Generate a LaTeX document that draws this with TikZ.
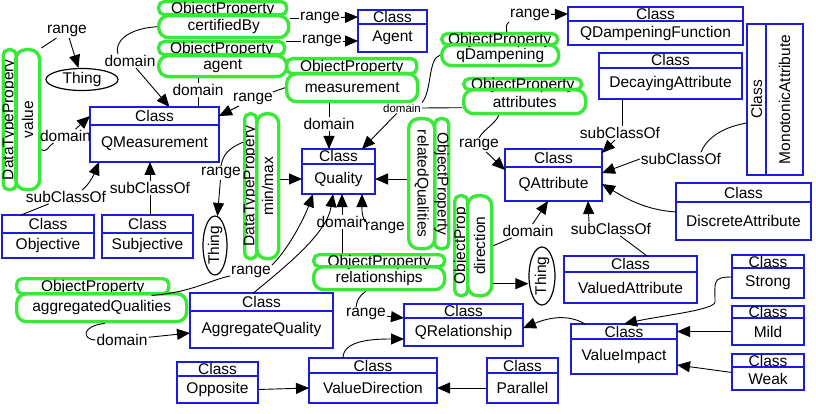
\documentclass[tikz,border=0pt]{standalone}
\usepackage{fontspec}
\setmainfont{Liberation Sans}
\usetikzlibrary{arrows.meta,positioning,shapes.geometric}
\definecolor{clsblue}{HTML}{1C1CDC}
\definecolor{propgreen}{HTML}{3AE83A}

\begin{document}
\begin{tikzpicture}[x=1pt,y=-1pt,
  font=\fontsize{15.5}{17}\selectfont,
  clshead/.style={draw=clsblue,line width=2.8pt,inner sep=0pt,outer sep=0pt,text height=11pt,text depth=0pt},
  clsbody/.style={draw=clsblue,line width=2.8pt,inner sep=1pt,outer sep=0pt},
  prophead/.style={draw=propgreen,line width=3.4pt,rounded corners=5.5pt,inner sep=0pt,text height=11pt,text depth=0pt},
  propbody/.style={draw=propgreen,line width=3.4pt,rounded corners=10pt,inner sep=1pt},
  thing/.style={ellipse,draw,line width=1.2pt,inner sep=0pt},
  lbl/.style={inner sep=1pt},
  link/.style={line width=0.9pt},
  arr/.style={line width=0.9pt,-{Triangle[length=13pt,width=11pt]}}]
  \useasboundingbox (0,0) rectangle (816,414);

  % classes: name/text/centre x/width/top/header/body
  \foreach \nm/\txt/\cx/\w/\y/\hh/\bh in {
      agent/Agent/392.5/69/10/14/28,
      qdf/QDampeningFunction/655.5/175/7/14/24,
      decay/DecayingAttribute/670.5/143/53/15/31,
      qm/QMeasurement/154.5/129/107/18/37,
      qual/Quality/338.5/73/149/15/30,
      qattr/QAttribute/553.5/97/149/18/34,
      obj/Objective/48/92/215/18/25,
      subj/Subjective/147.5/91/215/18/25,
      disc/DiscreteAttribute/743.5/135/183/19/38,
      va/ValuedAttribute/630.5/133/256/16/31,
      strong/Strong/768/72/255/13/30,
      mild/Mild/768/72/306/12/27,
      weak/Weak/768/72/354/13/23,
      vi/ValueImpact/624/106/324/15/35,
      qrel/QRelationship/463.5/119/304/14/28,
      aq/AggregateQuality/261.5/143/293/18/37,
      opp/Opposite/217.5/81/362/14/27,
      vd/ValueDirection/373/128/358/15/30,
      par/Parallel/522.5/71/358/15/30} {
    \node[clshead,minimum width=\w,minimum height=\hh,anchor=north] (\nm-h) at (\cx,\y) {Class};
    \node[clsbody,minimum width=\w,minimum height=\bh,below=0pt of \nm-h] (\nm) {\txt};
  }
  \node[clshead,minimum width=19,minimum height=151,anchor=north west,
        label={[rotate=90]center:Class}] (mono-h) at (747,24) {};
  \node[clsbody,minimum width=37,minimum height=151,right=0pt of mono-h,
        label={[rotate=90]center:MonotonicAttribute}] (mono) {};

  % object properties, lying
  \foreach \nm/\txt/\x/\hw/\hy/\hh/\bw/\by/\bh in {
      cert/certifiedBy/157/128/0/13/130/14/22,
      agt/agent/157/126/40/13/128/54/21,
      meas/measurement/285/130/57/15/131/72/28,
      qdamp/qDampening/440/116/32/11/117/43/21,
      attr/attributes/462/118/77/11/122/88/24,
      rel/relationships/312/131/253/12/131/265/23,
      agg/aggregatedQualities/15/152/277/15/170/292/28} {
    \node[prophead,minimum width=\hw,minimum height=\hh,anchor=north west] (\nm-h) at (\x,\hy) {ObjectProperty};
    \node[propbody,minimum width=\bw,minimum height=\bh,anchor=north west] (\nm) at (\x,\by) {\txt};
  }

  % properties, standing
  \node[prophead,minimum width=13,minimum height=140,anchor=north west,
        label={[rotate=90]center:DataTypePropery}] (value-h) at (1.5,48) {};
  \node[propbody,minimum width=24,minimum height=140,anchor=north west,
        label={[rotate=90]center:value}] (value) at (14,48) {};
  \node[prophead,minimum width=12,minimum height=145,anchor=north west,
        label={[rotate=90]center:DataTypePropery}] (mm-h) at (243,112) {};
  \node[propbody,minimum width=22,minimum height=145,anchor=north west,
        label={[rotate=90]center:min/max}] (mm) at (255,112) {};
  \node[propbody,minimum width=26,minimum height=130,anchor=north west,
        label={[rotate=-90]center:relatedQualities}] (relq) at (407,117) {};
  \node[prophead,minimum width=14,minimum height=130,anchor=north west,
        label={[rotate=-90]center:ObjectProperty}] (relq-h) at (433,117) {};
  \node[prophead,minimum width=13,minimum height=100,anchor=north west,
        label={[rotate=90]center:ObjectProp}] (dir-h) at (453,194) {};
  \node[propbody,minimum width=24,minimum height=100,anchor=north west,
        label={[rotate=90]center:direction}] (dir) at (466,194) {};

  % Thing
  \node[thing,minimum width=72,minimum height=22] (thingA) at (82,79.5) {Thing};
  \node[thing,minimum width=24,minimum height=59,label={[rotate=90]center:Thing}] (thingB) at (215,245.5) {};
  \node[thing,minimum width=26,minimum height=58,label={[rotate=90]center:Thing}] (thingC) at (542,276) {};

  % edge labels
  \foreach \nm/\txt/\x/\y in {
      rgA/range/67/31, dmA/domain/130/61, dmB/domain/198/90, rgB/range/253/99,
      rgC/range/320/18, rgD/range/322/41, dmC/domain/329/124, rgE/range/530/15,
      rgF/range/479/145, sbG/subClassOf/620/133, sbF/subClassOf/681/159,
      dmV/domain/65.5/136, sbA/subClassOf/66/197, sbB/subClassOf/150/188,
      rgG/range/221/173, rgH/range/251/272, dmD/domain/342/222, rgJ/range/366/314,
      dmE/domain/122/340, dmF/domain/528/231, sbE/subClassOf/611/229}
    \node[lbl] (\nm) at (\x,\y) {\txt};
  \node[lbl,font=\fontsize{11.5}{13}\selectfont] (dmS) at (402,108) {domain};
  \node[lbl,fill=white,inner sep=0pt] (rgI) at (385,228) {range};

  % value, certifiedBy, agent, measurement
  \draw[link] (value.north east) -- (rgA);
  \draw[arr] (rgA) -- (thingA);
  \draw[link] ([yshift=-30pt]value.east) .. controls +(6,3) and +(-6,4) .. ([xshift=-12pt]dmV.south);
  \draw[arr] ([xshift=10pt]dmV.north) -- (qm-h.west);
  \draw[link] (cert.west) .. controls +(-30,2) and +(-4,-12) .. ([xshift=-12pt]dmA.north);
  \draw[arr] (dmA) -- ([xshift=15pt]qm-h.north);
  \draw[link] (agt.south -| dmB) -- (dmB);
  \draw[link] (dmB) -- (dmB |- qm-h.north);
  \draw[link] (meas.west) -- (rgB);
  \draw[arr] (rgB) -- (qm-h.east);
  \draw[link] (cert.east |- rgC) -- (rgC);
  \draw[arr] (rgC) -- (agent-h.west);
  \draw[link] (agt-h.east |- rgD) -- (rgD);
  \draw[arr] (rgD) -- (rgD -| agent.west);
  \draw[link] (meas.south -| dmC) -- (dmC);
  \draw[arr] (dmC) -- (dmC |- qual-h.north);

  % qDampening, attributes
  \draw[link] (qdamp.west) .. controls +(-12,3) and +(10,-12) .. (dmS.north east);
  \draw[arr] (dmS) -- ([xshift=-13pt]qual-h.north east);
  \draw[link] ([yshift=-6pt]attr.west) -- (dmS.east);
  \draw[link] ([xshift=7pt]qdamp-h.north) .. controls +(0,-6) and +(-4,4) .. (rgE.south west);
  \draw[arr] (rgE) -- (qdf-h.west);
  \draw[link] ([xshift=-26pt]attr.south) .. controls +(-3,8) and +(4,-8) .. (rgF.north);
  \draw[arr] (rgF) -- ([yshift=-3pt]qattr.north west);

  % into Quality
  \draw[arr] (relq.west |- qual.east) -- (qual.east);
  \draw[arr] (mm.east |- qual.west) -- (qual.west);
  \draw[link] ([yshift=44pt]mm-h.west) .. controls +(-14,6) and +(2,-12) .. (rgG.north);
  \draw[arr] (rgG) -- (thingB);
  \draw[link] ([xshift=59pt]agg-h.south) .. controls +(40,-3) and +(-20,4) .. ([yshift=-4pt]rgH.west);
  \draw[arr] (rgH.north east) .. controls +(18,-18) and +(-8,22) .. ([xshift=-25.5pt]qual.south);
  \draw[arr] ([xshift=-8pt]aq-h.north) .. controls +(30,-25) and +(-6,40) .. ([xshift=-5.5pt]qual.south);
  \draw[link] (rel-h.north -| dmD) -- (dmD);
  \draw[arr] (dmD) -- (dmD |- qual.south);
  \draw[arr] (rgI.north west) .. controls +(-4,-8) and +(0,10) .. ([xshift=23.5pt]qual.south);

  % relationships, aggregatedQualities, direction
  \draw[link] ([xshift=-13.5pt]rel.south) .. controls +(-8,6) and +(1,-6) .. ([xshift=-10pt]rgJ.north);
  \draw[arr] (rgJ) -- (qrel.north west);
  \draw[link] ([xshift=3pt]agg.south) .. controls +(-25,3) and +(-12,0) .. (dmE.west);
  \draw[arr] (dmE) -- ([yshift=-3.5pt]aq.west);
  \draw[link] (dir.east) -- (dmF);
  \draw[arr] (dmF) -- ([xshift=-5.5pt]qattr.south);
  \draw[arr] ([yshift=-38pt]dir.east) -- ([yshift=-38pt]dir.east -| thingC.west);

  % subclasses of QAttribute
  \draw[link] ([xshift=16.5pt]va-h.north) -- (sbE);
  \draw[arr] ([xshift=-22pt]sbE.north) -- ([xshift=34.5pt]qattr.south);
  \draw[arr] ([yshift=9pt]disc.west) .. controls +(-30,-2) and +(25,15) .. (qattr.east);
  \draw[link] ([yshift=-23.5pt]mono-h.west) .. controls +(-30,5) and +(4,-10) .. ([xshift=20pt]sbF.north);
  \draw[arr] (sbF.west) -- ([yshift=11pt]qattr.east);
  \draw[link] ([xshift=-48.5pt]decay.south) -- ([xshift=2pt]sbG.north);
  \draw[arr] ([xshift=-5pt]sbG.south) -- ([yshift=-4pt]qattr-h.north east);

  % subclasses of QMeasurement
  \draw[link] ([xshift=-27pt]obj-h.north) -- (sbA);
  \draw[arr] ([xshift=16pt]sbA.north) .. controls +(8,-6) and +(-4,10) .. ([xshift=-55.5pt]qm.south);
  \draw[link] (subj-h.north -| sbB) -- (sbB);
  \draw[arr] (sbB) -- (sbB |- qm.south);

  % values
  \draw[arr] (opp.east) -- (vd.west);
  \draw[arr] (par.west) -- (vd.east);
  \draw[arr] ([xshift=-30pt]vd-h.north) .. controls +(0,-18) and +(-30,0) .. ([yshift=-7pt]qrel.west);
  \draw[arr] ([xshift=-39pt]vi-h.north) .. controls +(-20,-12) and +(20,-8) .. ([yshift=4pt]qrel.east);
  \draw[arr] ([yshift=6pt]strong.west) .. controls +(-20,0) and +(0,-20) .. ++(-17,25)
             .. controls +(0,8) and +(35,-8) .. (vi-h.north);
  \draw[arr] (mild.west) -- (vi-h.east);
  \draw[arr] ([yshift=6pt]weak.west) -- ([yshift=-8.5pt]vi.east);
\end{tikzpicture}
\end{document}
